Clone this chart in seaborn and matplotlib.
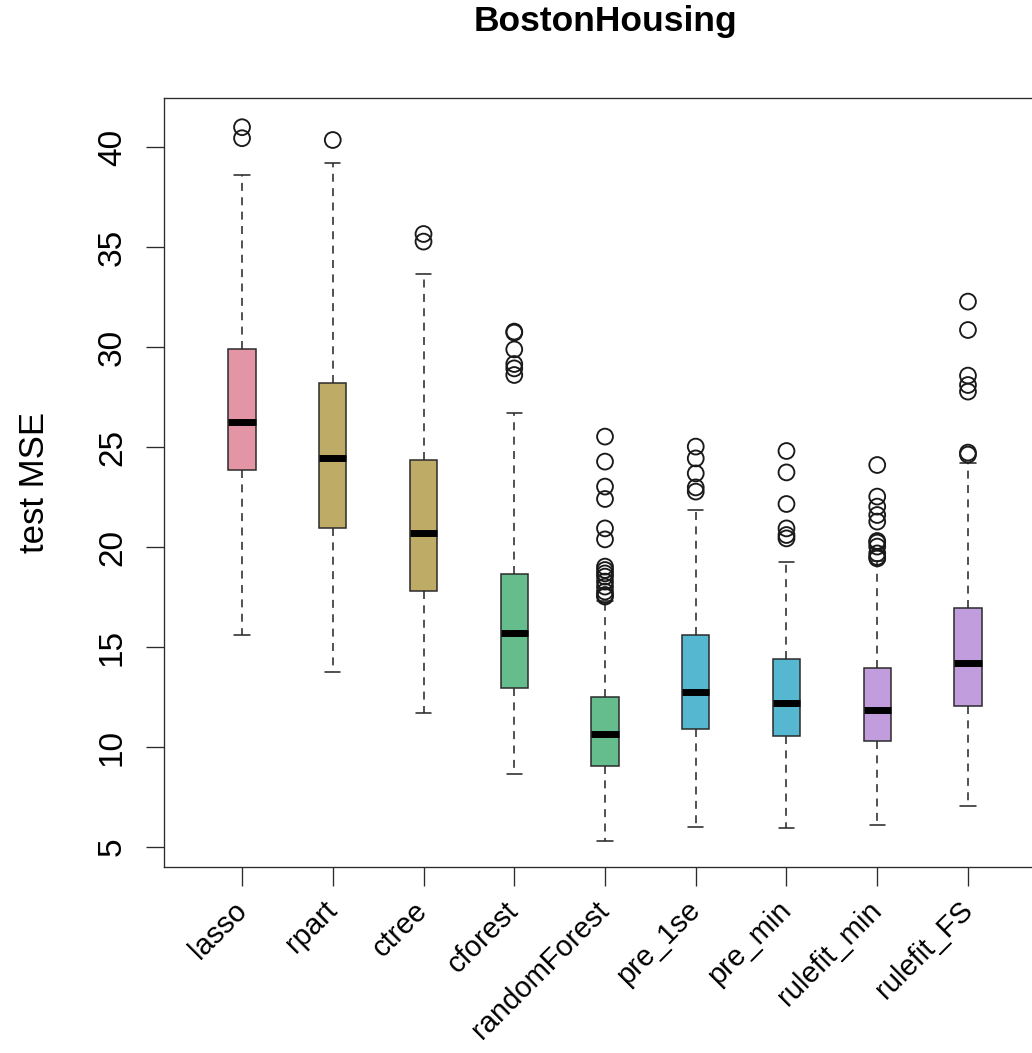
import numpy as np
import pandas as pd
import matplotlib
matplotlib.use("Agg")
import matplotlib.pyplot as plt
import matplotlib.transforms as mtransforms
import seaborn as sns

# ---------------- data ----------------
methods = ["lasso", "rpart", "ctree", "cforest", "randomForest",
           "pre_1se", "pre_min", "rulefit_min", "rulefit_FS"]
lower_whisker = [15.6, 13.75, 11.7, 8.67, 5.32, 6.02, 5.97, 6.1, 7.07]
q1 = [23.85, 20.93, 17.78, 12.95, 9.07, 10.9, 10.57, 10.32, 12.05]
median = [26.27, 24.47, 20.68, 15.72, 10.65, 12.77, 12.18, 11.83, 14.22]
q3 = [29.9, 28.2, 24.35, 18.63, 12.48, 15.58, 14.4, 13.93, 16.97]
upper_whisker = [38.6, 39.2, 33.67, 26.68, 17.3, 21.85, 19.27, 19.3, 24.22]

outliers_lasso = [40.99, 40.44]
outliers_rpart = [40.35]
outliers_ctree = [35.65, 35.27]
outliers_cforest = [30.77, 30.72, 29.88, 29.15, 28.93, 28.6]
outliers_randomForest = [25.52, 24.27, 23.02, 22.4, 20.93, 20.38, 19.02, 18.85,
                         18.68, 18.52, 18.27, 18.02, 17.77, 17.6, 17.52]
outliers_pre_1se = [25.02, 24.43, 23.68, 22.98, 22.77]
outliers_pre_min = [24.8, 23.73, 22.15, 20.93, 20.6, 20.43]
outliers_rulefit_min = [24.1, 22.52, 22.02, 21.6, 21.27, 20.3, 20.22, 20.02,
                        19.68, 19.5, 19.43]
outliers_rulefit_FS = [32.27, 30.85, 28.57, 28.1, 27.77, 24.72, 24.62]

box_colors = ["#E495A5", "#BDAB66", "#BDAB66", "#65BC8C", "#65BC8C",
              "#55B8D0", "#55B8D0", "#C29DDE", "#C29DDE"]

yticks = [5, 10, 15, 20, 25, 30, 35, 40]
title = "BostonHousing"
ylabel = "test MSE"

# ---------------- style ----------------
sns.set_style("ticks")
plt.rcParams["font.family"] = ["Liberation Sans", "DejaVu Sans"]
plt.rcParams["text.color"] = "black"
plt.rcParams["axes.labelcolor"] = "black"

W, H = 1032, 1053
fig = plt.figure(figsize=(W / 100, H / 100), dpi=100)
ax_left, ax_right, ax_top, ax_bottom = 164, 1046, 98, 867
ax = fig.add_axes([ax_left / W, 1 - ax_bottom / H,
                   (ax_right - ax_left) / W, (ax_bottom - ax_top) / H])

edge = "#2b2b2b"
positions = np.arange(len(methods))
stats = []
for i, m in enumerate(methods):
    stats.append(dict(med=median[i], q1=q1[i], q3=q3[i],
                      whislo=lower_whisker[i], whishi=upper_whisker[i],
                      fliers=[], label=m))

bp = ax.bxp(stats, positions=positions, widths=0.3, capwidths=0.17,
            showfliers=False, patch_artist=True,
            boxprops=dict(edgecolor=edge, linewidth=1.1),
            whiskerprops=dict(color=edge, linewidth=1.15, linestyle=(0, (5, 4))),
            capprops=dict(color=edge, linewidth=1.15),
            medianprops=dict(color="black", linewidth=5.0, solid_capstyle="butt"),
            zorder=2)
for patch, c in zip(bp["boxes"], box_colors):
    patch.set_facecolor(c)

# outliers via seaborn
all_out = [outliers_lasso, outliers_rpart, outliers_ctree, outliers_cforest,
           outliers_randomForest, outliers_pre_1se, outliers_pre_min,
           outliers_rulefit_min, outliers_rulefit_FS]
rows = []
for i, vals in enumerate(all_out):
    for v in vals:
        rows.append((i, v))
df_out = pd.DataFrame(rows, columns=["pos", "value"])
sns.scatterplot(data=df_out, x="pos", y="value", marker="o", s=130,
                facecolor="none", edgecolor="#1a1a1a", linewidth=1.35,
                ax=ax, legend=False, zorder=3)

# ---------------- axes ----------------
ax.set_xlim(-0.86, 8.86)
ax.set_ylim(4.0, 42.45)
ax.set_xticks(positions)
ax.set_xticklabels(methods, rotation=45, ha="right", va="center",
                   rotation_mode="anchor", fontsize=21, color="black")
offset = mtransforms.ScaledTranslation(3 / 100, 0, fig.dpi_scale_trans)
for lab in ax.get_xticklabels():
    lab.set_transform(lab.get_transform() + offset)
ax.set_yticks(yticks)
ax.set_yticklabels([str(v) for v in yticks], fontsize=24, color="black")
for lab in ax.get_yticklabels():
    lab.set_rotation(90)
    lab.set_va("center")
    lab.set_ha("right")
ax.tick_params(axis="y", length=13, width=0.95, color=edge, pad=13, labelcolor="black")
ax.tick_params(axis="x", length=14, width=0.95, color=edge, pad=14, labelcolor="black")
ax.set_xlabel("")
ax.set_ylabel(ylabel, fontsize=25, va="center", color="black")
ax.yaxis.set_label_coords((34 - ax_left) / (ax_right - ax_left), 0.5)
for s in ax.spines.values():
    s.set_visible(True)
    s.set_linewidth(0.95)
    s.set_color(edge)

fig.text(605 / W, 1 - 22 / H, title, ha="center", va="center",
         fontsize=25.5, fontweight="bold", color="black")

fig.savefig("out.png", dpi=100)
